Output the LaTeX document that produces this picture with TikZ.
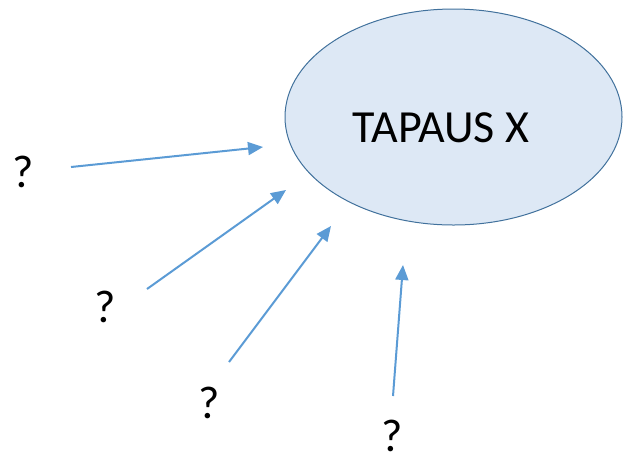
\documentclass[tikz,border=0pt]{standalone}
\usepackage{fontspec}
\setmainfont{Carlito}
\usepackage{tikz}
\usetikzlibrary{shapes}
\usetikzlibrary{arrows.meta}
\definecolor{arrowblue}{HTML}{5B9BD5}
\definecolor{ellfill}{HTML}{DDE8F5}
\definecolor{ellline}{HTML}{41719C}
\tikzset{
    qmark/.style={font=\fontsize{46}{50}\selectfont, inner sep=0pt},
    guess/.style={draw=arrowblue, line width=2pt, -{Triangle[length=15pt,width=13pt]}}
}

\begin{document}
\begin{tikzpicture}[x=1pt,y=-1pt]
    \useasboundingbox (0,0) rectangle (623,459);
    %the case
    \node[ellipse, draw=ellline, fill=ellfill, line width=1pt, minimum width=337pt, minimum height=216pt, inner sep=0pt] (tapaus) at (453.5,117) {};
    \node[qmark] (name) at (441,128) {TAPAUS X};
    %unknowns
    \node[qmark] (q1) at (23,172) {?};
    \node[qmark] (q2) at (105,307) {?};
    \node[qmark] (q3) at (209,403) {?};
    \node[qmark] (q4) at (392,436) {?};
    \coordinate (s1) at (71,167);   \coordinate (t1) at (263,147);
    \coordinate (s2) at (147,289);  \coordinate (t2) at (286,190);
    \coordinate (s3) at (229,362);  \coordinate (t3) at (331,226);
    \coordinate (s4) at (393,396);  \coordinate (t4) at (403,265);
    \foreach \i in {1,...,4} {
        \draw[guess] (s\i) -- (t\i);}
\end{tikzpicture}
\end{document}
